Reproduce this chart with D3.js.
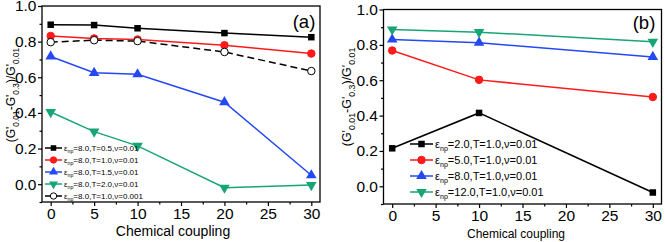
<!DOCTYPE html>
<html lang="en">
<head>
<meta charset="UTF-8">
<title>Chemical coupling panels</title>
<script src="https://cdn.jsdelivr.net/npm/d3@7"></script>
<style>
  body { margin: 0; background: #fff; }
  text { font-family: "Liberation Sans", Arial, sans-serif; fill: #000; }
</style>
</head>
<body>
<div class="container"></div>
<script>
// ---------- data ----------
const xA = [0, 5, 10, 20, 30]
const a_T05 = [0.895, 0.893, 0.875, 0.848, 0.825]
const a_T10 = [0.832, 0.818, 0.812, 0.780, 0.733]
const a_T15 = [0.717, 0.625, 0.617, 0.460, 0.050]
const a_T20 = [0.405, 0.295, 0.215, -0.020, -0.005]
const a_v001 = [0.797, 0.808, 0.803, 0.742, 0.635]
const aLabels = ["=8.0,T=0.5,\u03bd=0.01", "=8.0,T=1.0,\u03bd=0.01", "=8.0,T=1.5,\u03bd=0.01",
                 "=8.0,T=2.0,\u03bd=0.01", "=8.0,T=1.0,\u03bd=0.001"]

const xB = [0, 10, 30]
const b_e2 = [0.215, 0.415, -0.035]
const b_e5 = [0.768, 0.602, 0.505]
const b_e8 = [0.830, 0.812, 0.732]
const b_e12 = [0.887, 0.872, 0.817]
const bLabels = ["=2.0,T=1.0,\u03bd=0.01", "=5.0,T=1.0,\u03bd=0.01", "=8.0,T=1.0,\u03bd=0.01", "=12.0,T=1.0,\u03bd=0.01"]

const xTicks = [0, 5, 10, 15, 20, 25, 30]
const yTicks = [0.0, 0.2, 0.4, 0.6, 0.8, 1.0]

const BLACK = "#000", RED = "#ff1a1a", BLUE = "#2548f5", GREEN = "#17a578"

const svg = d3.select(".container").append("svg")
  .attr("width", 665).attr("height", 242)

function marker(g, type, color, x, y, s) {
  if (type === "square") {
    g.append("rect").attr("x", x - s/2).attr("y", y - s/2).attr("width", s).attr("height", s).attr("fill", color)
  } else if (type === "circle" || type === "open") {
    g.append("circle").attr("cx", x).attr("cy", y).attr("r", s/2)
      .attr("fill", type === "open" ? "#fff" : color).attr("stroke", color).attr("stroke-width", 1)
  } else {
    const sym = d3.symbol().type(d3.symbolTriangle).size(s * s * 0.6)
    g.append("path").attr("d", sym()).attr("fill", color)
      .attr("transform", `translate(${x},${y})` + (type === "down" ? "rotate(180)" : ""))
  }
}

function drawPanel(p) {
  const g = svg.append("g")
  const x = d3.scaleLinear().domain([-1, 31]).range([p.left, p.right])
  const y = d3.scaleLinear().domain([-0.1, 1.0]).range([p.bottom, p.top])

  // frame
  g.append("rect").attr("x", p.left).attr("y", p.top)
    .attr("width", p.right - p.left).attr("height", p.bottom - p.top)
    .attr("fill", "none").attr("stroke", "#000").attr("stroke-width", 1.3)

  // x axis
  const xa = g.append("g").attr("transform", `translate(0,${p.bottom})`)
    .call(d3.axisBottom(x).tickValues(xTicks).tickFormat(d3.format("d")).tickSize(4).tickPadding(2))
  const xm = g.append("g").attr("transform", `translate(0,${p.bottom})`)
    .call(d3.axisBottom(x).tickValues(d3.range(2.5, 30, 5)).tickFormat("").tickSize(2.5))
  // y axis
  const ya = g.append("g").attr("transform", `translate(${p.left},0)`)
    .call(d3.axisLeft(y).tickValues(yTicks).tickFormat(d3.format(".1f")).tickSize(4).tickPadding(1.5))
  const ym = g.append("g").attr("transform", `translate(${p.left},0)`)
    .call(d3.axisLeft(y).tickValues([-0.1, 0.1, 0.3, 0.5, 0.7, 0.9]).tickFormat("").tickSize(2.5))
  ;[xa, xm, ya, ym].forEach(a => {
    a.select(".domain").remove()
    a.selectAll("line").attr("stroke-width", 1.2)
    a.selectAll("text").attr("font-size", p.tickFont).attr("font-family", "Liberation Sans, Arial, sans-serif")
  })

  // axis titles
  g.append("text").attr("x", p.xTitleX).attr("y", p.xTitleY)
    .attr("text-anchor", "middle").attr("font-size", p.titleFont).text("Chemical coupling")
  const yt = g.append("text").attr("text-anchor", "middle").attr("font-size", p.yFont)
    .attr("transform", `translate(${p.yTitleX},${p.yTitleY}) rotate(-90)`)
  const parts = [["(G'", 0], ["0.01", 1], ["-G'", 0], ["0.3", 1], [")/G'", 0], ["0.01", 1]]
  parts.forEach(([t, sub], i) => {
    const prev = i > 0 ? parts[i-1][1] : 0
    yt.append("tspan").text(t)
      .attr("font-size", sub ? p.yFont * 0.7 : p.yFont)
      .attr("dy", (sub - prev) * p.yFont * 0.3)
  })

  // panel letter
  g.append("text").attr("x", p.letterX).attr("y", p.letterY).attr("font-size", 18.5)
    .attr("text-anchor", "middle").text(p.letter)

  // series
  const line = d3.line().x(d => x(d[0])).y(d => y(d[1]))
  p.series.forEach(s => {
    const pts = p.xs.map((v, i) => [v, s.values[i]])
    g.append("path").attr("d", line(pts)).attr("fill", "none").attr("stroke", s.color)
      .attr("stroke-width", 1.5).attr("stroke-dasharray", s.dash || null)
    pts.forEach(d => marker(g, s.type, s.color, x(d[0]), y(d[1]), s.size))
  })

  // legend
  p.series.forEach((s, i) => {
    const ly = p.legY + i * p.legStep
    g.append("line").attr("x1", p.legX).attr("x2", p.legX + p.legLen).attr("y1", ly).attr("y2", ly)
      .attr("stroke", s.color).attr("stroke-width", 1.5)
    marker(g, s.type, s.color, p.legX + p.legLen / 2, ly, s.size * p.legScale)
    const t = g.append("text").attr("x", p.legX + p.legLen + 2).attr("y", ly + p.legFont * 0.35)
      .attr("font-size", p.legFont)
    t.append("tspan").text("\u03b5")
    t.append("tspan").text("np").attr("font-size", p.legFont * 0.65).attr("dy", p.legFont * 0.3)
    t.append("tspan").text(s.label).attr("dy", -p.legFont * 0.3)
  })
}

drawPanel({
  left: 42, right: 320, top: 6, bottom: 202,
  xs: xA, letter: "(a)", letterX: 304, letterY: 28,
  tickFont: 15.5, titleFont: 14, yFont: 12,
  xTitleX: 173, xTitleY: 236, yTitleX: 15, yTitleY: 95,
  legX: 45, legY: 148, legStep: 12, legLen: 17, legFont: 8, legScale: 0.85,
  series: [
    { values: a_T05, color: BLACK, type: "square", size: 6.5, label: aLabels[0] },
    { values: a_T10, color: RED, type: "circle", size: 7.5, label: aLabels[1] },
    { values: a_T15, color: BLUE, type: "up", size: 9, label: aLabels[2] },
    { values: a_T20, color: GREEN, type: "down", size: 9, label: aLabels[3] },
    { values: a_v001, color: BLACK, type: "open", size: 7.5, dash: "7,4", label: aLabels[4] }
  ]
})

drawPanel({
  left: 383.5, right: 661.5, top: 9.5, bottom: 204,
  xs: xB, letter: "(b)", letterX: 644, letterY: 29,
  tickFont: 15.5, titleFont: 12, yFont: 12.5,
  xTitleX: 516, xTitleY: 238, yTitleX: 351, yTitleY: 97,
  legX: 410, legY: 144, legStep: 16, legLen: 23, legFont: 11, legScale: 1,
  series: [
    { values: b_e2, color: BLACK, type: "square", size: 6.5, label: bLabels[0] },
    { values: b_e5, color: RED, type: "circle", size: 7.5, label: bLabels[1] },
    { values: b_e8, color: BLUE, type: "up", size: 9, label: bLabels[2] },
    { values: b_e12, color: GREEN, type: "down", size: 9, label: bLabels[3] }
  ]
})
</script>
</body>
</html>
